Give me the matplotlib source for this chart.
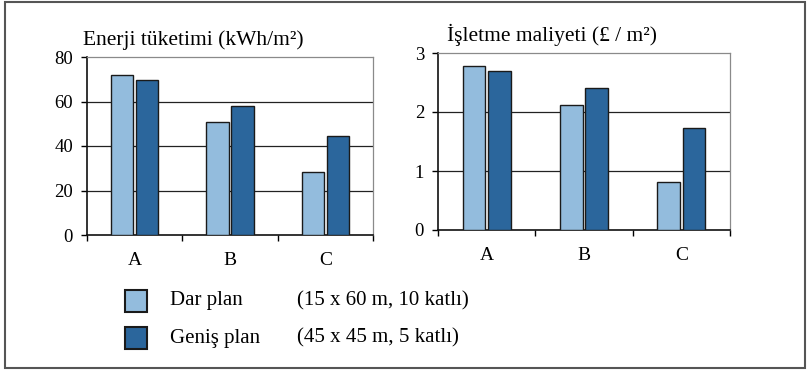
import matplotlib

matplotlib.use("Agg")
import matplotlib.pyplot as plt
import numpy as np
from matplotlib.patches import Rectangle

plt.rcParams["font.family"] = ["Liberation Serif", "DejaVu Serif"]

categories = ["A", "B", "C"]
energy_dar = [72, 51, 28.5]
energy_genis = [69.5, 58, 44.5]
cost_dar = [2.78, 2.12, 0.81]
cost_genis = [2.70, 2.40, 1.73]
series_labels = ["Dar plan", "Geniş plan"]
series_notes = ["(15 x 60 m, 10 katlı)", "(45 x 45 m, 5 katlı)"]

LIGHT = "#93bcdd"
DARK = "#2b669c"
W, OFF = 0.235, 0.13


def panel(ax, dar, genis, ymax, step, title, title_dx):
    x = np.arange(len(categories))
    ax.bar(x - OFF, dar, W, color=LIGHT, edgecolor="#1a1a1a", lw=1.0, zorder=3)
    ax.bar(x + OFF, genis, W, color=DARK, edgecolor="#1a1a1a", lw=1.0, zorder=3)
    ax.set_xlim(-0.5, len(categories) - 0.5)
    ax.set_ylim(0, ymax)
    ax.set_yticks(np.arange(0, ymax + step / 2, step))
    ax.set_xticks(x)
    ax.set_xticklabels(categories, fontsize=14)
    ax.set_xticks(np.arange(-0.5, len(categories)), minor=True)
    ax.tick_params(axis="x", which="major", length=0, pad=12)
    ax.tick_params(axis="x", which="minor", length=4, width=1.0, direction="out")
    ax.tick_params(axis="y", length=4, width=1.0, direction="out", labelsize=13.5, pad=6)
    for y in ax.get_yticks()[1:-1]:
        ax.axhline(y, color="#222222", lw=0.9, zorder=1)
    for s in ("top", "right"):
        ax.spines[s].set_color("#8a8a8a")
        ax.spines[s].set_linewidth(0.9)
    for s in ("left", "bottom"):
        ax.spines[s].set_color("#111111")
        ax.spines[s].set_linewidth(1.2)
    ax.annotate(title, xy=(0, 1), xycoords="axes fraction",
                xytext=(title_dx, 7), textcoords="offset pixels",
                fontsize=15.5, ha="left", va="bottom")


fig = plt.figure(figsize=(8.08, 3.72), dpi=100)
ax1 = fig.add_axes([87 / 808, 1 - 235 / 372, 286 / 808, 178 / 372])
ax2 = fig.add_axes([438 / 808, 1 - 230 / 372, 292 / 808, 177 / 372])
panel(ax1, energy_dar, energy_genis, 80, 20, "Enerji tüketimi (kWh/m²)", -4)
panel(ax2, cost_dar, cost_genis, 3, 1, "İşletme maliyeti (£ / m²)", 9)

# outer frame
fig.patches.append(Rectangle((5 / 808, 1 - 368 / 372), 800 / 808, 366 / 372,
                             transform=fig.transFigure, fill=False,
                             edgecolor="#555555", lw=1.5))

# legend rows
for i, (col, lab, note) in enumerate(zip([LIGHT, DARK], series_labels, series_notes)):
    yc = 301 + i * 37
    fig.patches.append(Rectangle((125 / 808, 1 - (yc + 11) / 372), 22 / 808, 22 / 372,
                                 transform=fig.transFigure, facecolor=col,
                                 edgecolor="#1a1a1a", lw=1.5))
    fig.text(170 / 808, 1 - yc / 372, lab, fontsize=15, ha="left", va="center")
    fig.text(297 / 808, 1 - yc / 372, note, fontsize=15, ha="left", va="center")

fig.savefig("out.png", dpi=100)
